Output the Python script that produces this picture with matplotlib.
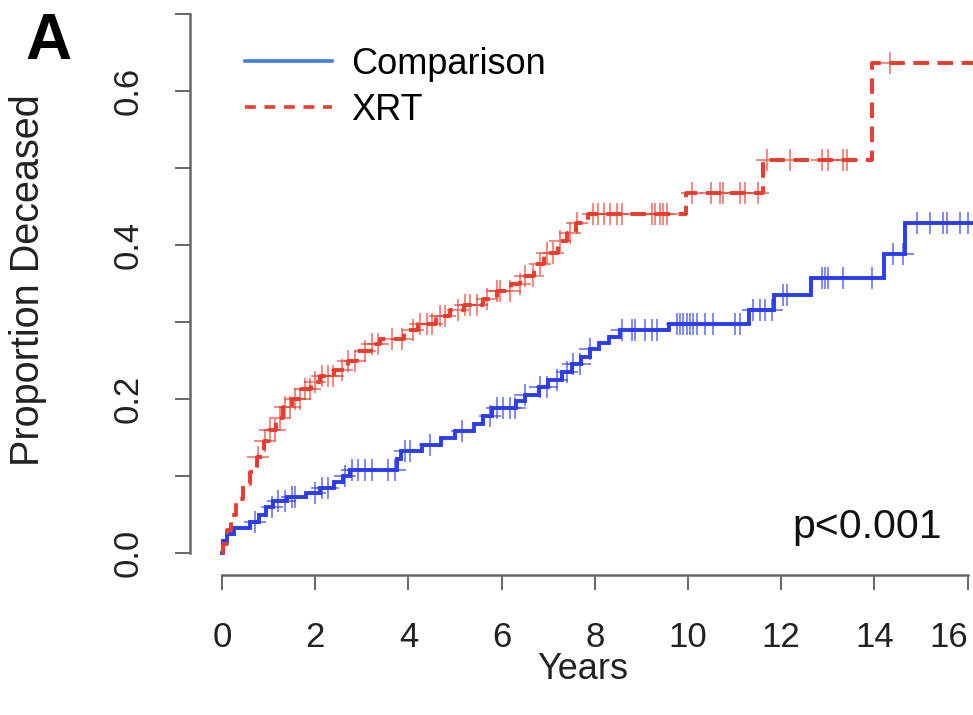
import numpy as np
import matplotlib
matplotlib.use("Agg")
import matplotlib.pyplot as plt
from matplotlib.lines import Line2D

# =========================================
# DADOS
# =========================================

# XRT: tempos dos degraus (anos) e proporção acumulada de óbitos
xrt_time = [0.0, 0.02, 0.1, 0.2, 0.3, 0.45, 0.6, 0.75, 0.9, 1.0, 1.15, 1.3, 1.5,
            1.7, 1.9, 2.1, 2.4, 2.7, 2.9, 3.2, 3.4, 3.9, 4.2, 4.6, 4.9, 5.2,
            5.6, 5.9, 6.2, 6.4, 6.7, 6.9, 7.2, 7.4, 7.6, 7.85, 9.95, 11.6,
            13.95, 16.2]
xrt_prop = [0.0, 0.012, 0.03, 0.05, 0.07, 0.09, 0.105, 0.125, 0.145, 0.16,
            0.175, 0.19, 0.20, 0.213, 0.222, 0.23, 0.238, 0.25, 0.262, 0.272,
            0.278, 0.29, 0.298, 0.308, 0.315, 0.322, 0.33, 0.34, 0.35, 0.36,
            0.375, 0.39, 0.405, 0.415, 0.428, 0.44, 0.467, 0.51, 0.636, 0.636]

# Comparison
comp_time = [0.0, 0.03, 0.1, 0.25, 0.6, 0.8, 0.95, 1.1, 1.4, 1.8, 2.1, 2.4,
             2.6, 2.75, 3.75, 3.85, 4.3, 4.7, 5.0, 5.4, 5.6, 5.8, 6.3, 6.5,
             6.8, 7.0, 7.3, 7.5, 7.7, 7.9, 8.1, 8.3, 8.55, 9.6, 11.3, 11.85,
             12.65, 14.2, 14.65, 16.2]
comp_prop = [0.0, 0.015, 0.025, 0.032, 0.04, 0.05, 0.06, 0.068, 0.073, 0.078,
             0.085, 0.092, 0.10, 0.108, 0.122, 0.132, 0.14, 0.15, 0.158, 0.168,
             0.178, 0.188, 0.197, 0.205, 0.215, 0.225, 0.235, 0.245, 0.255,
             0.265, 0.273, 0.28, 0.29, 0.298, 0.315, 0.335, 0.357, 0.388,
             0.428, 0.428]

# Censuras (+)
xrt_censor = [0.77, 0.92, 1.03, 1.14, 1.24, 1.35, 1.46, 1.57, 1.67, 1.78, 1.89,
              2.0, 2.15, 2.27, 2.38, 2.58, 2.7, 2.85, 3.07, 3.22, 3.35, 3.65,
              3.86, 4.1, 4.25, 4.4, 4.5, 4.68, 4.79, 5.06, 5.21, 5.32, 5.47,
              5.69, 5.9, 5.97, 6.18, 6.39, 6.5, 6.67, 6.82, 6.97, 7.1, 7.25,
              7.47, 7.62, 7.96, 8.07, 8.2, 8.33, 8.48, 8.58, 9.23, 9.29, 9.4,
              9.46, 9.55, 10.09, 10.5, 10.69, 10.75, 11.12, 11.22, 11.5, 11.7,
              12.19, 12.88, 13.0, 13.33, 13.41, 14.33]
comp_censor = [0.71, 1.07, 1.2, 1.35, 1.5, 1.57, 2.0, 2.15, 2.27, 2.64, 2.79,
               2.92, 3.07, 3.22, 3.56, 3.71, 3.93, 4.03, 4.46, 5.15, 5.75, 5.9,
               6.03, 6.18, 6.29, 6.5, 6.82, 6.97, 7.19, 7.4, 7.53, 7.68, 7.9,
               8.58, 8.8, 8.86, 9.08, 9.23, 9.33, 9.76, 9.83, 9.89, 9.98, 10.04,
               10.1, 10.19, 10.36, 10.54, 11.0, 11.12, 11.4, 11.55, 11.65, 11.8,
               12.04, 12.12, 12.88, 12.94, 13.0, 13.33, 13.95, 14.4, 14.61,
               14.91, 15.19, 15.47, 15.56, 15.84, 16.0]

x_ticks = [0, 2, 4, 6, 8, 10, 12, 14, 16]
y_major = [0.0, 0.2, 0.4, 0.6]
y_minor = [0.1, 0.3, 0.5, 0.7]

BLUE = "#2b3cf2"
RED = "#ee3a2c"
FONT = "Liberation Sans"


def step_value(times, props, t):
    idx = np.searchsorted(times, t, side="right") - 1
    return np.asarray(props)[idx]


# =========================================
# FIGURA
# =========================================

fig = plt.figure(figsize=(9.73, 7.15), dpi=100)
ax = fig.add_axes([190 / 973, 1 - 575 / 715, 783 / 973, 575 / 715])

ax.set_xlim((190 - 222) / 46.6, (973 - 222) / 46.6)
ax.set_ylim((553 - 575) / 770, 553 / 770)

ax.step(comp_time, comp_prop, where="post", color=BLUE, lw=2.8,
        solid_joinstyle="miter")
ax.step(xrt_time, xrt_prop, where="post", color=RED, lw=2.8,
        dashes=(4.0, 2.2))

ax.plot(comp_censor, step_value(comp_time, comp_prop, comp_censor), ls="none",
        marker="+", ms=16, mew=1.2, color=BLUE, alpha=0.7)
ax.plot(xrt_censor, step_value(xrt_time, xrt_prop, xrt_censor), ls="none",
        marker="+", ms=16, mew=1.2, color=RED, alpha=0.7)

# eixos estilo R
for s in ["top", "right"]:
    ax.spines[s].set_visible(False)
for s in ["left", "bottom"]:
    ax.spines[s].set_color("#666666")
    ax.spines[s].set_linewidth(1.8)
ax.spines["bottom"].set_bounds(0, 16)
ax.spines["left"].set_bounds(0, 0.7)

ax.set_xticks(x_ticks)
ax.set_xticklabels([str(v) for v in x_ticks], fontsize=25, family=FONT,
                   color="#222222")
ax.get_xticklabels()[-1].set_horizontalalignment("right")
ax.set_yticks(y_major)
ax.set_yticks(y_minor, minor=True)
ax.set_yticklabels(["%.1f" % v for v in y_major], fontsize=25, family=FONT,
                   color="#222222", rotation=90, va="center")
ax.tick_params(axis="both", which="both", length=11, width=1.4,
               color="#666666")
ax.tick_params(axis="x", pad=22)
ax.tick_params(axis="y", pad=22)

ax.set_xlabel("Years", fontsize=26, family=FONT, color="#222222")
ax.xaxis.set_label_coords((583 - 190) / 783, (575 - 652) / 575)
ax.set_ylabel("Proportion Deceased", fontsize=28.5, family=FONT,
              color="#222222")
ax.yaxis.set_label_coords((47 - 190) / 783, (575 - 280) / 575)

handles = [Line2D([], [], color="#3f7de6", lw=2.6),
           Line2D([], [], color="#e8402c", lw=2.6, dashes=(3, 2.4))]
leg = ax.legend(handles, ["Comparison", "XRT"], loc="upper left",
                bbox_to_anchor=((245 - 190) / 783, (575 - 47) / 575),
                frameon=False, prop={"family": FONT, "size": 26},
                handlelength=2.4, handletextpad=0.55, labelspacing=0.3,
                borderaxespad=0, borderpad=0)

ax.text((942 - 190) / 783, (575 - 527) / 575, "p<0.001", transform=ax.transAxes,
        ha="right", va="center", fontsize=29.5, family=FONT, color="#111111")

fig.text(25 / 973, 1 - 42 / 715, "A", fontsize=46, fontweight="bold",
         family=FONT, va="center", ha="left")

fig.savefig("out.png", dpi=100)
